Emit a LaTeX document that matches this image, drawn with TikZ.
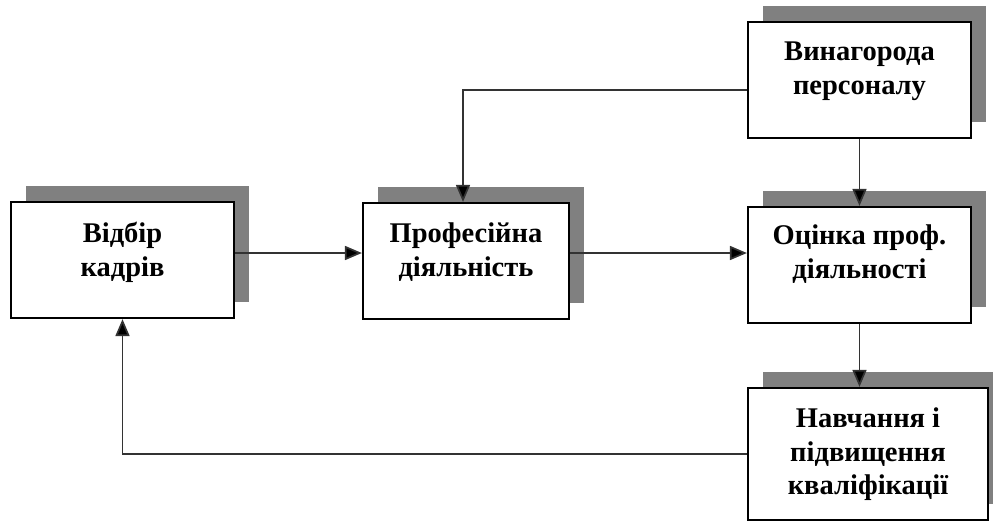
\documentclass[tikz,border=0pt]{standalone}
\usepackage{fontspec}
\setmainfont{Liberation Serif}
\usetikzlibrary{shadows,arrows.meta}

\tikzset{
  link/.style={draw=black!80,line width=1.7pt,-{Triangle[length=17pt,width=14pt,fill=black]}},
}

\begin{document}
\begin{tikzpicture}[x=1pt,y=-1pt]
        \useasboundingbox (0,0) rectangle (993,522);

        \begin{scope}[every node/.style={draw,fill=white,line width=2.2pt,
            copy shadow={shadow xshift=15pt,shadow yshift=16pt,draw=none,fill=black!50},
            minimum width=223pt,minimum height=116pt,inner sep=0pt}]
          \node (vidbir) at (122.5,260) {};
          \node[minimum width=206pt] (prof) at (466,261) {};
          \node (vynag)  at (859.5,80)  {};
          \node (ocinka) at (859.5,265) {};
          \node[minimum width=240pt,minimum height=132pt] (navch) at (868,454) {};
        \end{scope}

        \begin{scope}[every node/.style={anchor=north,align=center,inner sep=0pt,
            font=\fontsize{28.5}{33.5}\selectfont\bfseries}]
          \node (vidbirT) at ([yshift=-21pt]vidbir.north) {Відбір\\кадрів};
          \node (profT)   at ([yshift=-21pt]prof.north)   {Професійна\\діяльність};
          \node (vynagT)  at ([yshift=-21pt]vynag.north)  {Винагорода\\персоналу};
          \node (ocinkaT) at ([yshift=-19pt]ocinka.north) {Оцінка проф.\\діяльності};
          \node (navchT)  at ([yshift=-21pt]navch.north)  {Навчання і\\підвищення\\кваліфікації};
        \end{scope}

        \draw[link] ([yshift=7pt]vidbir.east) coordinate (ab) -- (ab -| prof.west);
        \draw[link] ([yshift=8pt]prof.east) coordinate (bc) -- (bc -| ocinka.west);
        \draw[link] ([yshift=-10pt]vynag.west) -| ([xshift=-3pt]prof.north);
        \draw[link] (vynag.south) -- (ocinka.north);
        \draw[link] (ocinka.south) -- (ocinka.south |- navch.north);
        \draw[link] (navch.west) -| (vidbir.south);

      \end{tikzpicture}
\end{document}
